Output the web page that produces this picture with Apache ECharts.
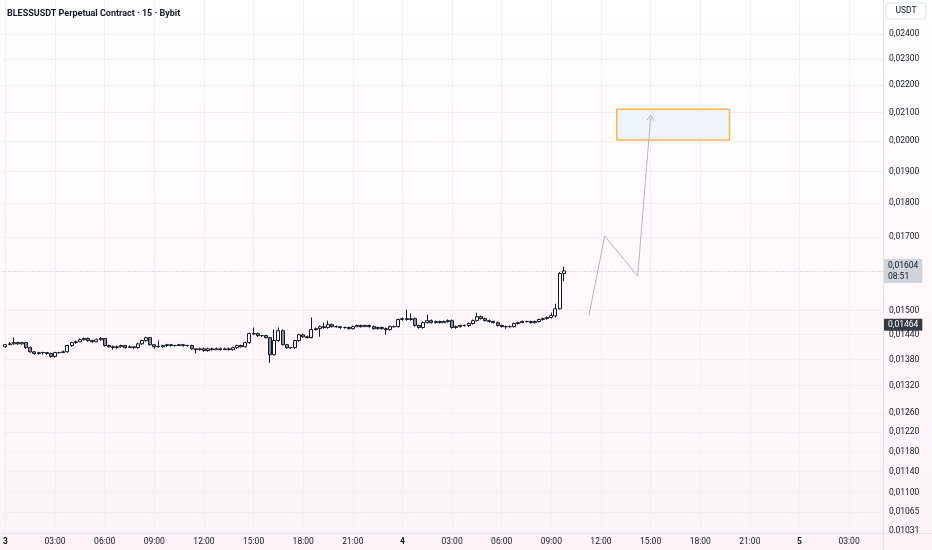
<!DOCTYPE html>
<html><head><meta charset="utf-8">
<script src="https://cdn.jsdelivr.net/npm/echarts@6/dist/echarts.min.js"></script>
<style>html,body{margin:0;padding:0;background:#fff}#c{width:932px;height:550px}</style>
</head><body><div id="c"></div>
<script>
const titleText = 'BLESSUSDT Perpetual Contract · 15 · Bybit';
const currencyText = 'USDT';
const startTime = Date.UTC(2025, 8, 3, 0, 0);
const barMinutes = 15;

const opens = [0.01410,0.01415,0.01417,0.01420,0.01417,0.01420,0.01408,0.01398,0.01394,0.01396,
0.01396,0.01394,0.01387,0.01396,0.01396,0.01398,0.01413,0.01420,0.01422,0.01427,
0.01430,0.01425,0.01422,0.01427,0.01430,0.01413,0.01410,0.01408,0.01410,0.01413,
0.01408,0.01410,0.01408,0.01417,0.01425,0.01432,0.01415,0.01410,0.01410,0.01413,
0.01415,0.01413,0.01413,0.01415,0.01413,0.01413,0.01405,0.01403,0.01405,0.01401,
0.01405,0.01403,0.01405,0.01403,0.01405,0.01403,0.01408,0.01413,0.01410,0.01420,
0.01442,0.01442,0.01437,0.01437,0.01432,0.01391,0.01425,0.01449,0.01415,0.01408,
0.01408,0.01425,0.01439,0.01434,0.01432,0.01452,0.01454,0.01459,0.01457,0.01464,
0.01459,0.01459,0.01457,0.01457,0.01454,0.01459,0.01462,0.01459,0.01462,0.01459,
0.01454,0.01457,0.01454,0.01452,0.01459,0.01459,0.01477,0.01479,0.01477,0.01479,
0.01462,0.01457,0.01469,0.01474,0.01469,0.01472,0.01469,0.01472,0.01474,0.01457,
0.01459,0.01462,0.01462,0.01467,0.01474,0.01484,0.01479,0.01474,0.01472,0.01469,
0.01462,0.01459,0.01459,0.01459,0.01467,0.01469,0.01472,0.01472,0.01469,0.01472,
0.01477,0.01479,0.01482,0.01486,0.01504,0.01597];

const closes = [0.01415,0.01417,0.01420,0.01417,0.01420,0.01408,0.01398,0.01394,0.01396,0.01396,
0.01394,0.01387,0.01396,0.01396,0.01398,0.01413,0.01420,0.01422,0.01427,0.01430,
0.01425,0.01422,0.01427,0.01430,0.01413,0.01410,0.01408,0.01410,0.01413,0.01408,
0.01410,0.01408,0.01417,0.01425,0.01432,0.01415,0.01410,0.01411,0.01413,0.01415,
0.01413,0.01413,0.01415,0.01413,0.01413,0.01405,0.01403,0.01405,0.01401,0.01405,
0.01403,0.01405,0.01403,0.01405,0.01403,0.01408,0.01413,0.01410,0.01420,0.01442,
0.01441,0.01437,0.01437,0.01432,0.01391,0.01425,0.01449,0.01415,0.01408,0.01408,
0.01425,0.01439,0.01434,0.01432,0.01452,0.01454,0.01459,0.01457,0.01464,0.01459,
0.01459,0.01457,0.01457,0.01454,0.01459,0.01462,0.01459,0.01462,0.01459,0.01454,
0.01457,0.01454,0.01452,0.01459,0.01459,0.01477,0.01479,0.01477,0.01479,0.01462,
0.01457,0.01469,0.01474,0.01469,0.01472,0.01469,0.01472,0.01474,0.01457,0.01459,
0.01462,0.01462,0.01467,0.01474,0.01484,0.01479,0.01474,0.01472,0.01469,0.01462,
0.01459,0.01459,0.01459,0.01467,0.01469,0.01472,0.01472,0.01469,0.01472,0.01477,
0.01479,0.01482,0.01487,0.01504,0.01597,0.01604];

const highs = [0.01417,0.01422,0.01432,0.01422,0.01422,0.01420,0.01410,0.01398,0.01398,0.01398,
0.01396,0.01396,0.01398,0.01398,0.01401,0.01415,0.01422,0.01425,0.01430,0.01432,
0.01432,0.01427,0.01430,0.01434,0.01430,0.01415,0.01413,0.01413,0.01415,0.01413,
0.01413,0.01410,0.01420,0.01427,0.01434,0.01434,0.01415,0.01425,0.01415,0.01417,
0.01417,0.01415,0.01417,0.01415,0.01415,0.01415,0.01405,0.01408,0.01408,0.01408,
0.01408,0.01408,0.01408,0.01408,0.01408,0.01410,0.01415,0.01415,0.01422,0.01444,
0.01457,0.01444,0.01439,0.01439,0.01434,0.01452,0.01457,0.01452,0.01417,0.01410,
0.01427,0.01442,0.01442,0.01437,0.01482,0.01457,0.01462,0.01469,0.01474,0.01467,
0.01462,0.01459,0.01459,0.01459,0.01462,0.01464,0.01464,0.01464,0.01464,0.01462,
0.01459,0.01459,0.01457,0.01462,0.01462,0.01479,0.01482,0.01502,0.01492,0.01482,
0.01464,0.01472,0.01489,0.01477,0.01474,0.01474,0.01474,0.01477,0.01477,0.01462,
0.01464,0.01464,0.01469,0.01477,0.01494,0.01487,0.01482,0.01477,0.01474,0.01472,
0.01464,0.01462,0.01462,0.01469,0.01472,0.01474,0.01474,0.01474,0.01474,0.01479,
0.01482,0.01484,0.01494,0.01517,0.01601,0.01616];

const lows = [0.01408,0.01415,0.01415,0.01415,0.01415,0.01405,0.01396,0.01391,0.01391,0.01391,
0.01391,0.01384,0.01384,0.01394,0.01396,0.01396,0.01410,0.01417,0.01422,0.01425,
0.01422,0.01420,0.01422,0.01425,0.01410,0.01408,0.01403,0.01405,0.01408,0.01405,
0.01408,0.01405,0.01405,0.01415,0.01422,0.01413,0.01405,0.01408,0.01408,0.01410,
0.01410,0.01410,0.01413,0.01410,0.01410,0.01403,0.01394,0.01401,0.01398,0.01398,
0.01401,0.01403,0.01401,0.01403,0.01401,0.01401,0.01405,0.01408,0.01408,0.01417,
0.01439,0.01434,0.01434,0.01430,0.01372,0.01389,0.01422,0.01413,0.01405,0.01405,
0.01405,0.01422,0.01432,0.01430,0.01430,0.01449,0.01434,0.01454,0.01454,0.01457,
0.01457,0.01454,0.01454,0.01452,0.01452,0.01459,0.01457,0.01459,0.01457,0.01452,
0.01452,0.01452,0.01439,0.01449,0.01457,0.01457,0.01474,0.01474,0.01474,0.01459,
0.01454,0.01454,0.01467,0.01467,0.01467,0.01467,0.01469,0.01469,0.01454,0.01454,
0.01457,0.01459,0.01459,0.01464,0.01472,0.01477,0.01472,0.01469,0.01467,0.01459,
0.01457,0.01454,0.01457,0.01457,0.01464,0.01469,0.01469,0.01467,0.01467,0.01469,
0.01474,0.01477,0.01479,0.01482,0.01502,0.01576];

const priceTicks = [0.024,0.023,0.022,0.021,0.020,0.019,0.018,0.017,0.015,0.0144,0.0138,0.0132,0.0126,0.0122,0.0118,0.0114,0.0110,0.01065,0.01031];
const timeTickHours = [0,3,6,9,12,15,18,21,24,27,30,33,36,39,42,45,48,51];
const lastPrice = 0.01604;
const countdown = '08:51';
const markPrice = 0.01464;

// projection drawing (hours from start, price)
const pathHours = [35.27, 36.23, 38.22, 39.0];
const pathPrices = [0.01487, 0.01702, 0.01590, 0.02081];
const zoneHours = [36.96, 43.77];
const zonePrices = [0.02112, 0.02004];

const H = 3600 * 1000, M = 60 * 1000;
const xMin = startTime - 10.85 * M;
const xMax = startTime + 3183 * M;
const candleData = opens.map((o, i) => [startTime + i * barMinutes * M, o, closes[i], lows[i], highs[i]]);
const pathData = pathHours.map((h, i) => {
  const p = { value: [startTime + h * H, pathPrices[i]] };
  if (i === pathHours.length - 1) {
    p.symbol = 'path://M0,6 L4,0 L8,6';
    p.symbolSize = [7, 5];
    p.symbolRotate = -4;
    p.itemStyle = { color: 'transparent', borderColor: '#b4b6bd', borderWidth: 1 };
  }
  return p;
});
const timeTicks = timeTickHours.map(h => startTime + h * H);
const pad = n => (n < 10 ? '0' : '') + n;
const fmtPrice = v => v.toFixed(5).replace('.', ',');
const FONT = 'Roboto, "Noto Sans", sans-serif';

const chart = echarts.init(document.getElementById('c'));
chart.setOption({
  animation: false,
  backgroundColor: { type: 'linear', x: 0, y: 0, x2: 0, y2: 1,
    colorStops: [{ offset: 0, color: '#ffffff' }, { offset: 1, color: '#fdf3f7' }] },
  title: { text: titleText, left: 2, top: 4,
    textStyle: { fontSize: 9, fontWeight: 'bold', color: '#131722', fontFamily: FONT } },
  grid: { left: 0, right: 49, top: 0, bottom: 17 },
  xAxis: {
    type: 'value',
    scale: true,
    min: xMin,
    max: xMax,
    axisLine: { show: false },
    axisTick: { show: false, customValues: timeTicks },
    splitLine: { show: true, lineStyle: { color: '#f3eff2', width: 1 } },
    axisLabel: {
      customValues: timeTicks,
      margin: 4,
      fontSize: 8.5, color: '#131722', fontFamily: FONT,
      formatter: v => {
        const d = new Date(v);
        const h = d.getUTCHours();
        return h === 0 ? '{b|' + d.getUTCDate() + '}' : pad(h) + ':00';
      },
      rich: { b: { fontWeight: 'bold', fontSize: 8.5, color: '#131722', fontFamily: FONT } }
    }
  },
  yAxis: {
    type: 'log', logBase: 10,
    position: 'right',
    min: 0.010272, max: 0.02543,
    axisLine: { show: false },
    axisTick: { show: false, customValues: priceTicks },
    splitLine: { show: true, lineStyle: { color: '#f3eff2', width: 1 } },
    axisLabel: {
      customValues: priceTicks,
      margin: 6,
      fontSize: 8.5, color: '#131722', fontFamily: FONT,
      formatter: v => fmtPrice(v)
    }
  },
  series: [
    {
      type: 'candlestick',
      data: candleData,
      barWidth: 3.5,
      itemStyle: { color: '#ffffff', color0: '#8c8f99', borderColor: '#131722', borderColor0: '#131722', borderWidth: 1 },
      markLine: {
        silent: true, symbol: 'none', animation: false,
        data: [
          [{ coord: [xMin, lastPrice],
             lineStyle: { type: [1, 2], color: '#b9bcc4', width: 1 },
             label: { show: true, position: 'end', distance: 1, formatter: fmtPrice(lastPrice) + '\n' + countdown,
               backgroundColor: '#d1d4dc', color: '#131722', fontSize: 8.5, lineHeight: 11, fontFamily: FONT,
               padding: [1, 4, 1, 4], borderRadius: 1, align: 'left' } },
           { coord: [xMax, lastPrice] }],
          [{ coord: [xMin, markPrice],
             lineStyle: { color: 'rgba(0,0,0,0)', width: 1 },
             label: { show: true, position: 'end', distance: 1, formatter: fmtPrice(markPrice),
               backgroundColor: '#363a45', color: '#ffffff', fontSize: 8.5, lineHeight: 10, fontFamily: FONT,
               padding: [1, 4, 1, 4], borderRadius: 1, align: 'left' } },
           { coord: [xMax, markPrice] }]
        ]
      }
    },
    {
      type: 'line',
      data: pathData,
      symbol: 'none',
      lineStyle: { color: '#b4b6bd', width: 1 },
      z: 5,
      markArea: {
        silent: true,
        itemStyle: { color: '#eef4fd', borderColor: '#ffb74d', borderWidth: 1.5 },
        data: [[{ coord: [startTime + zoneHours[0] * H, zonePrices[0]] },
                { coord: [startTime + zoneHours[1] * H, zonePrices[1]] }]]
      }
    }
  ],
  graphic: [
    { type: 'line', shape: { x1: 883.5, y1: 0, x2: 883.5, y2: 550 }, style: { stroke: '#e6e3e8', lineWidth: 1 }, silent: true, z: 10 },
    { type: 'line', shape: { x1: 0, y1: 533.5, x2: 932, y2: 533.5 }, style: { stroke: '#e6e3e8', lineWidth: 1 }, silent: true, z: 10 },
    { type: 'rect', shape: { x: 886, y: 3, width: 40, height: 16, r: 3 },
      style: { fill: '#ffffff', stroke: '#e0e3eb', lineWidth: 1 }, silent: true, z: 10 },
    { type: 'text', x: 906, y: 11, style: { text: currencyText, fontSize: 8.5, fontFamily: FONT, fill: '#131722', align: 'center', verticalAlign: 'middle' }, silent: true, z: 11 }
  ]
});
</script></body></html>
